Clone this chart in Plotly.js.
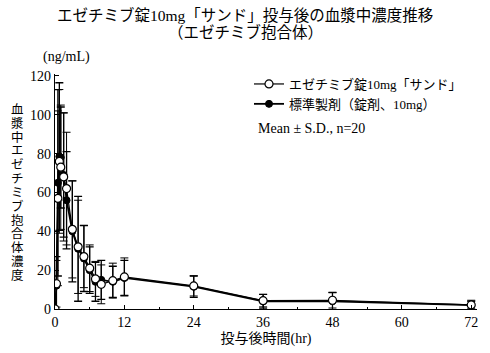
<!DOCTYPE html>
<html><head><meta charset="utf-8">
<script src="https://cdn.plot.ly/plotly-3.0.1.min.js"></script>
<style>body{margin:0;background:#fff}#c{width:490px;height:353px}</style>
</head><body><div id="c"></div>
<script>
const times = [0, 0.25, 0.5, 0.75, 1, 1.5, 2, 3, 4, 5, 6, 7, 8, 10, 12, 24, 36, 48, 72];
const testMean = [0, 13, 57, 76, 73, 68, 62, 41, 32, 27, 21, 15.5, 12.7, 14.6, 16.5, 11.9, 4.3, 4.5, 2.1];
const testSD   = [0, 12, 45, 37, 32, 33, 29, 25, 24, 16, 12, 9, 10, 9, 9.8, 5.2, 3.2, 4, 2.4];
const refMean  = [0, 12, 65, 78.5, 78, 69, 56, 40, 31, 26, 20, 14, 15, 14, 16, 11.5, 4, 4, 2];
const refSD    = [0, 15, 48, 38, 26, 32, 25, 26, 27, 17, 12, 10, 10, 8, 9, 5.5, 3.5, 4.5, 2];
const testName = 'エゼチミブ錠10mg「サンド」';
const refName = '標準製剤（錠剤、10mg）';
const titleLines = ['エゼチミブ錠10mg「サンド」投与後の血漿中濃度推移', '（エゼチミブ抱合体）'];
const yTitleChars = '血漿中エゼチミブ抱合体濃度'.split('');
const xTickVals = [0, 12, 24, 36, 48, 60, 72];
const yTickVals = [0, 20, 40, 60, 80, 100, 120];

const FONT = "'Liberation Serif', 'Noto Sans CJK JP', serif";

const traces = [
  {x: times, y: refMean, name: refName, type: 'scatter', mode: 'lines+markers',
   line: {color: '#000', width: 1.8},
   marker: {symbol: 'circle', size: 7, color: '#000', line: {color: '#000', width: 1}},
   error_y: {type: 'data', array: refSD, visible: true, color: '#000', thickness: 1.3, width: 4}},
  {x: times, y: testMean, name: testName, type: 'scatter', mode: 'lines+markers',
   line: {color: '#000', width: 1.2},
   marker: {symbol: 'circle', size: 8, color: '#fff', line: {color: '#000', width: 1.2}},
   error_y: {type: 'data', array: testSD, visible: true, color: '#000', thickness: 1, width: 4}}
];

const H = 353, mTop = 74, mBottom = 44, mLeft = 55, plotW = 422;
const plotH = H - mTop - mBottom;
const px = v => (v - mLeft) / plotW;
const py = v => (H - mBottom - v) / plotH;
const annotations = [
  {text: titleLines[0], xref: 'paper', yref: 'paper', x: px(245), y: py(15), xanchor: 'center', yanchor: 'middle',
   showarrow: false, font: {family: FONT, size: 15.5, color: '#000'}},
  {text: titleLines[1], xref: 'paper', yref: 'paper', x: px(245), y: py(32), xanchor: 'center', yanchor: 'middle',
   showarrow: false, font: {family: FONT, size: 15.5, color: '#000'}},
  {text: '(ng/mL)', xref: 'paper', yref: 'paper', x: px(66), y: py(57), xanchor: 'center', yanchor: 'middle',
   showarrow: false, font: {family: FONT, size: 14, color: '#000'}},
  {text: 'Mean ± S.D., n=20', xref: 'paper', yref: 'paper', x: px(256), y: py(128), xanchor: 'left', yanchor: 'middle',
   showarrow: false, font: {family: FONT, size: 14, color: '#000'}}
];
yTitleChars.forEach((ch, i) => {
  annotations.push({text: ch, xref: 'paper', yref: 'paper',
    x: px(17), y: py(110 + i * 13.8), xanchor: 'center', yanchor: 'middle',
    showarrow: false, font: {family: FONT, size: 12.5, color: '#000'}});
});

const layout = {
  width: 490, height: 353,
  margin: {l: mLeft, r: 490 - mLeft - plotW, t: mTop, b: mBottom},
  paper_bgcolor: '#fff', plot_bgcolor: '#fff',
  font: {family: FONT, color: '#000', size: 14},
  showlegend: true,
  legend: {x: px(249), y: py(69), xanchor: 'left', yanchor: 'top', traceorder: 'reversed',
           font: {family: FONT, size: 13, color: '#000'}, bgcolor: 'rgba(0,0,0,0)', itemwidth: 30},
  xaxis: {range: [0, 73], showgrid: false, zeroline: false, showline: true, linecolor: '#000', linewidth: 1.2,
          tickmode: 'array', tickvals: xTickVals, ticks: 'inside', ticklen: 4, tickcolor: '#000',
          minor: {dtick: 6, ticks: 'inside', ticklen: 2, tickcolor: '#000', showgrid: false},
          tickfont: {family: FONT, size: 14, color: '#000'},
          title: {text: '投与後時間(hr)', font: {family: FONT, size: 14, color: '#000'}, standoff: 4}},
  yaxis: {range: [0, 121], showgrid: false, zeroline: false, showline: true, linecolor: '#000', linewidth: 1.2,
          tickmode: 'array', tickvals: yTickVals, ticks: 'inside', ticklen: 4, tickcolor: '#000',
          tickfont: {family: FONT, size: 14, color: '#000'}},
  annotations: annotations
};
Plotly.newPlot('c', traces, layout, {displayModeBar: false, staticPlot: true});
</script>
</body></html>
